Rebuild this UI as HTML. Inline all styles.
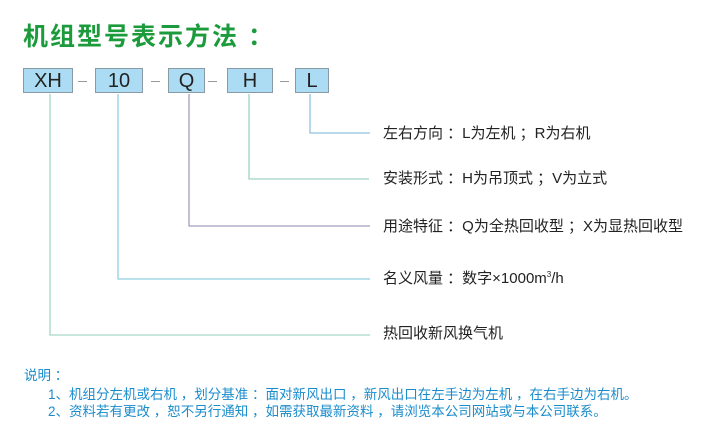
<!DOCTYPE html>
<html><head><meta charset="utf-8"><style>
body{margin:0;width:720px;height:426px;background:#fff;position:relative;overflow:hidden;font-family:"Liberation Sans","Noto Sans CJK SC",sans-serif}
.t{position:absolute;left:23px;top:17px;font-size:25px;font-weight:bold;color:#1c9b3c;letter-spacing:2px;white-space:nowrap}
.b{position:absolute;top:68px;height:25px;background:#abdcf3;border:1px solid #8a9aa4;box-sizing:border-box;text-align:center;font-size:20px;line-height:24px;color:#222}
.d{position:absolute;top:81px;width:9px;height:1px;background:#999}
.l{position:absolute;font-size:15px;color:#222;left:383px;white-space:nowrap}
.n{position:absolute;font-size:13.5px;color:#1a8ccc;white-space:nowrap}
</style></head><body>
<div class="t">机组型号表示方法 ：</div>
<div class="b" style="left:23px;width:50px">XH</div>
<div class="b" style="left:95px;width:48px">10</div>
<div class="b" style="left:168px;width:37px">Q</div>
<div class="b" style="left:227px;width:46px">H</div>
<div class="b" style="left:295px;width:34px">L</div>
<div class="d" style="left:78px"></div>
<div class="d" style="left:151px"></div>
<div class="d" style="left:208px"></div>
<div class="d" style="left:280px"></div>
<svg style="position:absolute;left:0;top:0" width="720" height="426" fill="none" stroke-width="1.3">
<polyline points="50,94 50,335 370,335" stroke="#a6d6c8"/>
<polyline points="118,94 118,279 370,279" stroke="#8fcfe0"/>
<polyline points="189,94 189,226 370,226" stroke="#a59fbe"/>
<polyline points="249,94 249,179 369,179" stroke="#9fd3c6"/>
<polyline points="310,94 310,133 370,133" stroke="#8fc4de"/>
</svg>
<div class="l" style="top:122px">左右方向 ：L为左机 ；R为右机</div>
<div class="l" style="top:167px">安装形式 ：H为吊顶式 ；V为立式</div>
<div class="l" style="top:215px">用途特征 ：Q为全热回收型 ；X为显热回收型</div>
<div class="l" style="top:267px">名义风量 ：数字×1000m<sup style="font-size:8px">3</sup>/h</div>
<div class="l" style="top:322px">热回收新风换气机</div>
<div class="n" style="left:24px;top:364px">说明 ：</div>
<div class="n" style="left:48px;top:383px">1、机组分左机或右机 ，划分基准 ：面对新风出口 ，新风出口在左手边为左机 ，在右手边为右机。</div>
<div class="n" style="left:48px;top:400px">2、资料若有更改 ，恕不另行通知 ，如需获取最新资料 ，请浏览本公司网站或与本公司联系。</div>
</body></html>
